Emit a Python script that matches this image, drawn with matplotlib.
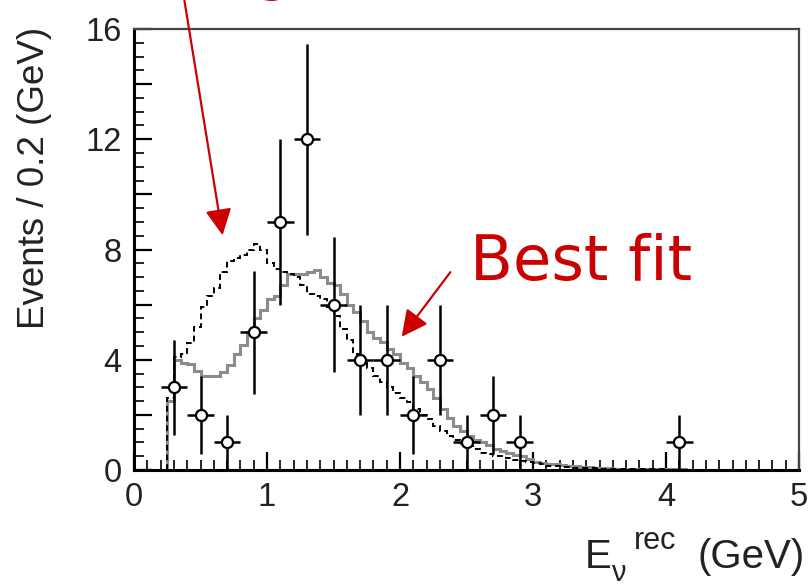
import numpy as np
import matplotlib
matplotlib.use("Agg")
import matplotlib.pyplot as plt
from matplotlib.ticker import MultipleLocator, FuncFormatter

# ---- data ----
data_x = [0.3, 0.5, 0.7, 0.9, 1.1, 1.3, 1.5, 1.7, 1.9, 2.1, 2.3, 2.5, 2.7, 2.9, 4.1]
data_y = [3, 2, 1, 5, 9, 12, 6, 4, 4, 2, 4, 1, 2, 1, 1]
data_xerr = 0.1

hist_lo = 0.25
hist_w = 0.05
noosc = [2.6, 4.1, 4.2, 4.6, 5.2, 5.9, 6.3, 6.6, 7.2, 7.6,
         7.7, 7.8, 8.0, 8.2, 8.0, 7.5, 7.3, 7.2, 7.1, 7.0,
         6.7, 6.4, 6.3, 6.2, 5.9, 5.6, 5.1, 4.7, 4.2, 3.9,
         3.7, 3.4, 3.2, 3.0, 2.8, 2.6, 2.45, 2.2, 2.0, 1.85,
         1.6, 1.4, 1.25, 1.1, 0.95, 0.87, 0.75, 0.62, 0.58, 0.52,
         0.5, 0.42, 0.37, 0.33, 0.28, 0.24, 0.2, 0.16, 0.14, 0.12,
         0.1, 0.09, 0.08, 0.07, 0.06, 0.05, 0.05, 0.04, 0.04, 0.03,
         0.03, 0.03, 0.02, 0.02, 0.02, 0.01, 0.01, 0.01, 0.01, 0.01,
         0.01, 0.01, 0.01, 0.01, 0.01]
bestfit = [2.5, 4.0, 3.9, 3.85, 3.6, 3.4, 3.4, 3.4, 3.55, 3.8,
           4.2, 4.55, 5.0, 5.5, 5.8, 6.2, 6.3, 6.7, 7.1, 7.1,
           7.1, 7.2, 7.25, 7.0, 6.8, 6.7, 6.4, 6.0, 5.75, 5.4,
           5.0, 4.8, 4.65, 4.4, 4.2, 3.9, 3.7, 3.4, 3.2, 2.95,
           2.6, 2.2, 1.9, 1.6, 1.4, 1.25, 1.1, 1.0, 0.9, 0.75,
           0.68, 0.6, 0.55, 0.5, 0.4, 0.3, 0.27, 0.23, 0.2, 0.17,
           0.15, 0.13, 0.12, 0.1, 0.09, 0.07, 0.06, 0.05, 0.05, 0.04,
           0.04, 0.03, 0.03, 0.03, 0.02, 0.02, 0.02, 0.02, 0.01, 0.01,
           0.01, 0.01, 0.01, 0.01, 0.01]

y_ticklabels = [0, 4, 8, 12, 16]
x_ticklabels = [0, 1, 2, 3, 4, 5]

RED = "#cc0000"
TXT = "#222222"
plt.rcParams['font.family'] = ['Liberation Sans', 'DejaVu Sans']

W, H = 808, 586
fig = plt.figure(figsize=(W/100, H/100), dpi=100)
ax = fig.add_axes([134/W, (H-470)/H, (799-134)/W, (470-29)/H])

edges_n = hist_lo + hist_w*np.arange(len(noosc)+1)
edges_b = hist_lo + hist_w*np.arange(len(bestfit)+1)
ax.stairs(bestfit, edges_b, baseline=0, color="#8c8c8c", lw=2.2, zorder=2)
ax.stairs(noosc, edges_n, baseline=0, color="black", lw=1.4,
          linestyle=(0, (3, 2)), zorder=3)

yerr = np.sqrt(np.array(data_y, float))
ax.errorbar(data_x, data_y, yerr=yerr, xerr=data_xerr, fmt='o', ms=8,
            mfc='white', mec='black', mew=1.6, ecolor='black', elinewidth=1.8,
            capsize=0, zorder=5)

ax.set_xlim(0, 5)
ax.set_ylim(0, 16)

ax.xaxis.set_major_locator(MultipleLocator(1))
ax.xaxis.set_minor_locator(MultipleLocator(0.1))
ax.yaxis.set_major_locator(MultipleLocator(2))
ax.yaxis.set_minor_locator(MultipleLocator(0.5))
ax.yaxis.set_major_formatter(FuncFormatter(
    lambda v, p: f"{int(round(v))}" if abs(v-round(v)) < 1e-6 and int(round(v)) in y_ticklabels else ""))
ax.xaxis.set_major_formatter(FuncFormatter(
    lambda v, p: f"{int(round(v))}" if int(round(v)) in x_ticklabels else ""))

ax.tick_params(axis='both', which='major', direction='in', length=13, width=1.6,
               labelsize=23.5, top=False, right=False, labelcolor=TXT)
ax.tick_params(axis='both', which='minor', direction='in', length=7, width=1.2,
               top=False, right=False)
ax.tick_params(axis='x', which='major', pad=9)
ax.tick_params(axis='y', which='major', pad=9)
for s in ['left', 'bottom']:
    ax.spines[s].set_linewidth(2.2)
for s in ['top', 'right']:
    ax.spines[s].set_linewidth(1.6)
    ax.spines[s].set_color('#444444')

fig.text(35/W, 1-178/H, "Events / 0.2 (GeV)", rotation=90, fontsize=26.5,
         ha='center', va='center', color=TXT)
# x label pieces
fig.text(585/W, 1-568/H, "E", fontsize=29, ha='left', va='baseline', color=TXT)
fig.text(611/W, 1-581/H, "ν", fontsize=21, ha='left', va='baseline', color=TXT)
fig.text(634/W, 1-549/H, "rec", fontsize=22, ha='left', va='baseline', color=TXT)
fig.text(805/W, 1-568/H, "(GeV)", fontsize=29, ha='right', va='baseline', color=TXT)

# annotations
fig.text(470/W, 1-280/H, "Best fit", fontsize=45, color=RED,
         ha='left', va='baseline', family='DejaVu Sans')
fig.text(20/W, 1+11/H, "Assuming no oscillation", fontsize=40, color=RED,
         ha='left', va='baseline', family='DejaVu Sans')

def arrow(x0, y0, x1, y1):
    fig.add_artist(matplotlib.patches.FancyArrowPatch(
        (x0/W, 1-y0/H), (x1/W, 1-y1/H), transform=fig.transFigure,
        arrowstyle='-|>,head_length=10,head_width=5', mutation_scale=1.6,
        color=RED, lw=1.6, zorder=10))

arrow(184, -2, 223, 238)
arrow(452, 270, 400, 339)

fig.savefig("out.png", dpi=100)
